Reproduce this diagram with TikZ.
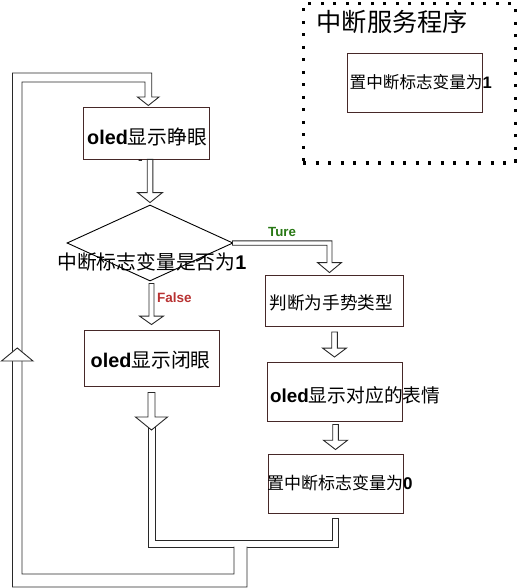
\documentclass[tikz,border=0pt]{standalone}
\usepackage{fontspec}
\setmainfont{Liberation Sans}
\newfontfamily\cjk{Noto Sans CJK SC}
\usetikzlibrary{shapes.geometric,calc}
\definecolor{boxc}{RGB}{70,40,40}
\definecolor{arrc}{RGB}{40,40,40}
\definecolor{falsec}{RGB}{184,50,50}
\definecolor{truec}{RGB}{40,120,20}
\newcommand\fs[1]{\fontsize{#1}{#1}\selectfont}
% hollow downward block arrow: start, apex, half shaft, half head, head length
\newcommand\hdown[5]{%
  \path[harrow] let \p1=(#1), \p2=(#2) in
   (\x2-#3pt,\y1) -- (\x2-#3pt,\y2+#5pt) -- (\x2-#4pt,\y2+#5pt) -- (\x2,\y2)
   -- (\x2+#4pt,\y2+#5pt) -- (\x2+#3pt,\y2+#5pt) -- (\x2+#3pt,\y1) -- cycle;}
\begin{document}
\begin{tikzpicture}[x=1pt,y=-1pt,
  box/.style={draw=boxc, line width=0.9pt, inner sep=0pt},
  harrow/.style={draw=arrc, fill=white, line width=0.9pt, line join=miter},
  lbl/.style={inner sep=0pt, anchor=west},
  dotframe/.style={draw=black, line width=3pt, dash pattern=on 3pt off 9.5pt}]
\useasboundingbox (0,0) rectangle (518,588);

% interrupt service routine frame
\node[dotframe, minimum width=212pt, minimum height=159pt] (srv) at (409,83.5) {};
\node[box, minimum width=135pt, minimum height=59pt] (isr) at (414.5,82.5) {};

% main flow nodes
\node[box, minimum width=126pt, minimum height=52pt] (B1) at (146,133) {};
\node[draw=black, line width=0.9pt, diamond, minimum width=166pt, minimum height=76pt, inner sep=0pt] (d) at (150,243) {};
\node[box, minimum width=135pt, minimum height=56pt] (B2) at (151.5,358) {};
\node[box, minimum width=138pt, minimum height=51pt] (B3) at (334,300.5) {};
\node[box, minimum width=135pt, minimum height=59pt] (B4) at (334.5,391.5) {};
\node[box, minimum width=135pt, minimum height=59pt] (B5) at (335.5,483.5) {};
\coordinate (tB2) at (151.5,430);

% return path from B5
\path[harrow] (332,518) -- (338,518) -- (338,547) -- (148,547) -- (148,422) -- (155,422) -- (155,540) -- (332,540) -- cycle;
% big loop back to B1
\fill[white] (234,546) -- (234,574) -- (22,574) -- (22,82) -- (145,82) -- (145,97) -- (137.5,97) -- (148.3,105.5) -- (159,97) -- (151.7,97) -- (151.7,73) -- (12.5,73) -- (12.5,587) -- (247,587) -- (247,546) -- cycle;
\draw[harrow, fill=none] (234,546.6) -- (234,574) -- (22,574) -- (22,82) -- (145,82) -- (145,97) -- (137.5,97) -- (148.3,105.5) -- (159,97) -- (151.7,97) -- (151.7,73) -- (12.5,73) -- (12.5,587) -- (247,587) -- (247,546.6);
\path[harrow] (17.25,348) -- (33,361) -- (1.5,361) -- cycle;

% block arrows
\hdown{B1.south}{$(d.north)+(0,-2)$}{2.8}{12.5}{10}
\hdown{$(d.south)+(0,2)$}{$(B2.north)+(0,-5)$}{2.5}{12}{8.5}
\hdown{$(B2.south)+(0,6)$}{tB2}{3.5}{16}{13}
\hdown{$(B3.south)+(0,5.5)$}{$(B4.north)+(0,-4.5)$}{2.8}{12}{9}
\hdown{$(B4.south)+(0,3)$}{$(B5.north)+(0,-4)$}{2.8}{12}{9.3}
\path[harrow] let \p1=(d.east), \p2=($(B3.north)+(-4.5,-2)$) in
 (\x1-1pt,\y1+2.2pt) -- (\x2+2.5pt,\y1+2.2pt) -- (\x2+2.5pt,\y2+10pt) -- (\x2+12pt,\y2+10pt)
 -- (\x2,\y2) -- (\x2-12pt,\y2+10pt) -- (\x2-2.5pt,\y2+10pt) -- (\x2-2.5pt,\y1-2.2pt)
 -- (\x1-1pt,\y1-2.2pt) -- cycle;

% texts
\node[lbl] (title) at (316.5,21.7) {\fs{25.2}\cjk 中断服务程序};
\node[lbl] (isrt) at (349.5,81.7) {\fs{16.6}{\cjk 置中断标志变量为}\textbf{1}};
\node[lbl] (B1t) at (87,137) {\fs{19.8}\textbf{oled}{\cjk 显示睁眼}};
\node[lbl] (dt) at (57,261.7) {\fs{19.8}{\cjk 中断标志变量是否为}\textbf{1}};
\node[lbl] (B2t) at (90.5,360.5) {\fs{19.8}\textbf{oled}{\cjk 显示闭眼}};
\node[lbl] (B3t) at (269.5,303) {\fs{17.6}\cjk 判断为手势类型};
\node[lbl] (B4t) at (270,395) {\fs{18.8}\textbf{oled}{\cjk 显示对应的表情}};
\node[lbl] (B5t) at (267,483) {\fs{17}{\cjk 置中断标志变量为}\textbf{0}};
\node[lbl, text=falsec] (fl) at (157,298) {\fs{13.5}\bfseries False};
\node[lbl, text=truec] (tl) at (268,232) {\fs{13.3}\bfseries Ture};
\node[inner sep=0pt] (dash) at (140.5,162) {\fs{14}-};
\end{tikzpicture}
\end{document}
